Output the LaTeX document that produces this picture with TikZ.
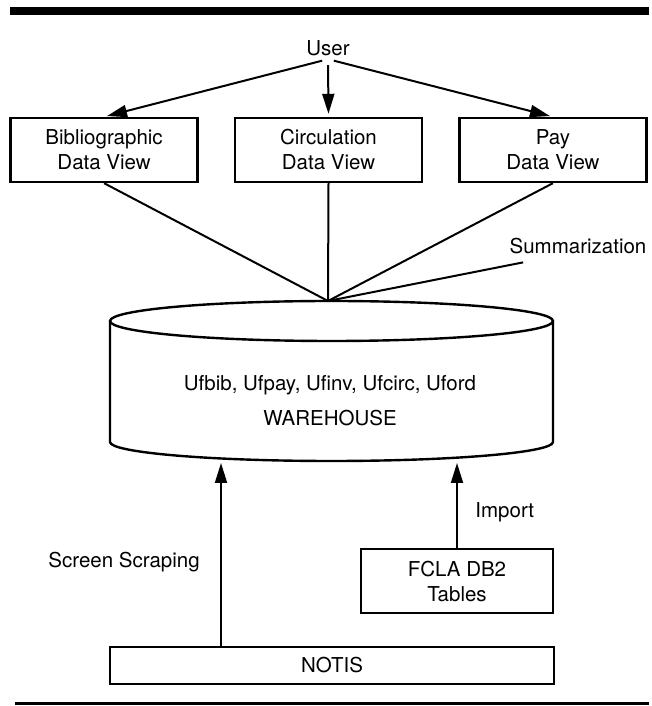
\documentclass[tikz,border=0pt]{standalone}
\usepackage{fontspec}
\setmainfont{TeX Gyre Heros}
\usetikzlibrary{arrows.meta,positioning}

\begin{document}
\begin{tikzpicture}[
  x=1pt, y=1pt,
  font=\fontsize{20.5}{25}\selectfont,
  >={Triangle[length=20pt, width=12pt]},
  view/.style={draw, line width=2.4pt, align=center,
    minimum width=187pt, minimum height=64pt, inner sep=2pt},
  store/.style={line width=2.4pt},
  link/.style={line width=2pt},
  arrow/.style={->, line width=2pt}
]
\useasboundingbox (0,0) rectangle (652,706);

% page rules
\fill (10,691) rectangle (649,699);
\draw[line width=3pt] (15,2.5) -- (649,2.5);

\node (user) at (328,658) {User};

\node[view] (circ) at (328.5,556) {Circulation\\Data View};
\node[view, left=35pt of circ] (bib) {Bibliographic\\Data View};
\node[view, right=35pt of circ] (pay) {Pay\\Data View};

% warehouse drum
\coordinate (whtop) at (328,405);
\coordinate (whbase) at (331.5,243);
\draw[store] (110,385) -- (110,264)
  arc[start angle=180, end angle=360, x radius=221.5, y radius=19] -- (553,385);
\draw[store] (331.5,385) ellipse [x radius=221.5, y radius=20];
\node[anchor=base] (tables) at (330,315) {Ufbib, Ufpay, Ufinv, Ufcirc, Uford};
\node[anchor=base] (whname) at (330,280) {WAREHOUSE};

\node[view, minimum width=192pt] (fcla) at (457,125) {FCLA DB2\\Tables};
\node[view, minimum width=444pt, minimum height=37pt] (notis) at (332,40.5) {NOTIS};

\foreach \v in {bib,circ,pay}
  \draw[arrow, shorten <=6pt, shorten >=3pt] (user.south) -- (\v.north);
\foreach \v in {bib,circ,pay}
  \draw[link] (\v.south) -- (whtop);

\node (summ) at (578,460) {Summarization};
\draw[link] (whtop) -- ([xshift=17pt, yshift=-5pt]summ.south west);

\coordinate (scrapein) at (221,243);
\draw[arrow] (notis.north -| scrapein) -- (scrapein)
  node[pos=0.46, left=17pt] (scrape) {Screen Scraping};
\draw[arrow] (fcla.north) -- (fcla.north |- whbase)
  node[pos=0.42, right=14pt] (import) {Import};

\end{tikzpicture}
\end{document}
